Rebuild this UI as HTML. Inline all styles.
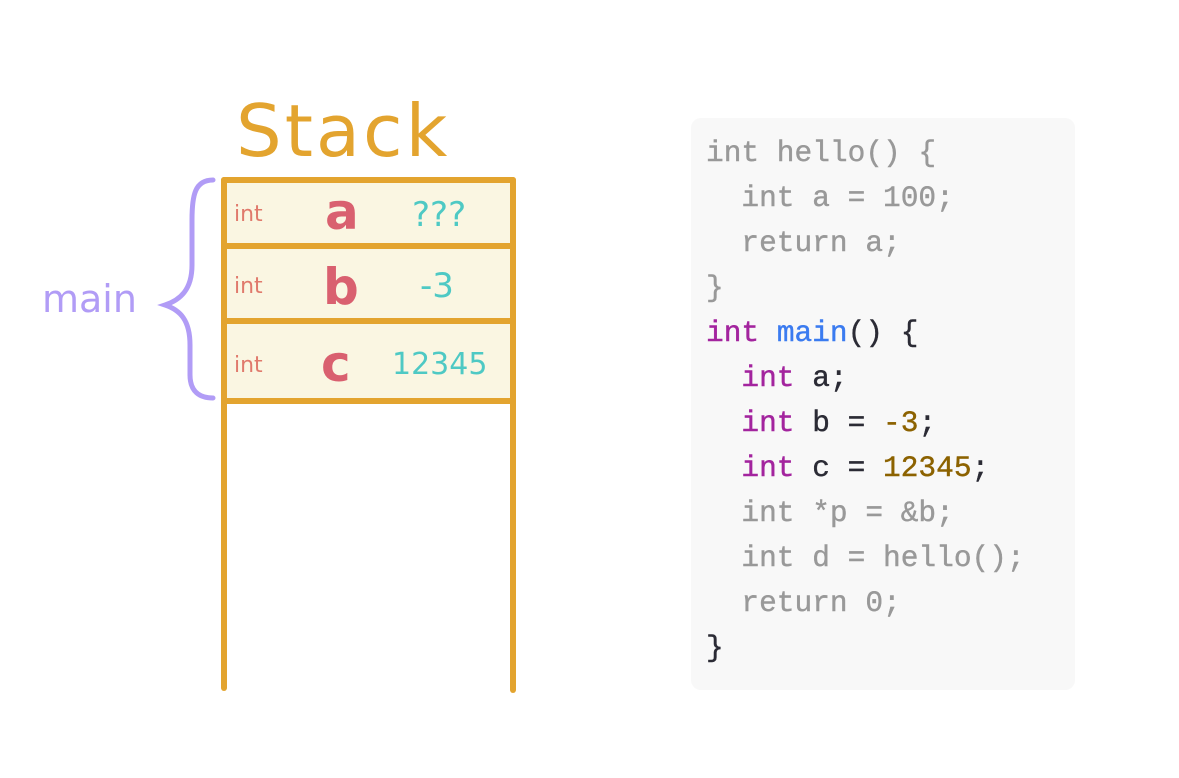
<!DOCTYPE html>
<html><head><meta charset="utf-8"><style>
body{margin:0;width:1179px;height:778px;background:#fff;position:relative;overflow:hidden}
.code{position:absolute;left:691px;top:118px;width:384px;height:572px;background:#f8f8f8;border-radius:10px}
pre{position:absolute;left:706px;top:131px;margin:0;font-family:"Liberation Mono",monospace;font-size:29.5px;line-height:45px;color:#999;-webkit-text-stroke:0.4px currentColor}
.k{color:#a3249e}.f{color:#3b7bf0}.d{color:#2b2b35}.n{color:#8c6200}
</style></head><body>
<svg width="1179" height="778" style="position:absolute;left:0;top:0">
<rect x="224" y="180" width="289" height="221" fill="#faf6e2"/>
<g stroke="#e3a42f" stroke-width="6" stroke-linecap="round" fill="none">
<line x1="224" y1="180" x2="224" y2="688"/>
<line x1="513" y1="180" x2="513" y2="690"/>
<line x1="224" y1="180" x2="513" y2="180"/>
<line x1="224" y1="246" x2="513" y2="246"/>
<line x1="224" y1="321" x2="513" y2="321"/>
<line x1="224" y1="401" x2="513" y2="401"/>
</g>
<path d="M213 180 C195 180 192 195 192 220 L192 265 C192 290 180 300 165 305 C180 310 190 320 190 345 L190 375 C190 392 200 398 213 398" stroke="#b19cf6" stroke-width="5" fill="none" stroke-linecap="round"/>
<text x="236" y="156" font-family="DejaVu Sans" font-size="72" letter-spacing="3" fill="#e3a42f">Stack</text>
<g font-family="DejaVu Sans" fill="#e07a6c" font-size="22"><text x="234" y="221">int</text><text x="234" y="293">int</text><text x="234" y="372">int</text></g>
<g font-family="DejaVu Sans" font-weight="bold" fill="#d9606f" font-size="50"><text x="325" y="229">a</text><text x="323" y="304">b</text><text x="321" y="381">c</text></g>
<g font-family="DejaVu Sans" fill="#4ec9c4" font-size="34"><text x="412" y="226">???</text><text x="420" y="297">-3</text><text x="392" y="374" font-size="30">12345</text></g>
<text x="42" y="312" font-family="DejaVu Sans" font-size="38" fill="#b19cf6">main</text>
</svg>
<div class="code"></div>
<pre>int hello() {
  int a = 100;
  return a;
}
<span class="k">int</span> <span class="f">main</span><span class="d">() {</span>
  <span class="k">int</span> <span class="d">a;</span>
  <span class="k">int</span> <span class="d">b = </span><span class="n">-3</span><span class="d">;</span>
  <span class="k">int</span> <span class="d">c = </span><span class="n">12345</span><span class="d">;</span>
  int *p = &amp;b;
  int d = hello();
  return 0;
<span class="d">}</span></pre>
</body></html>
